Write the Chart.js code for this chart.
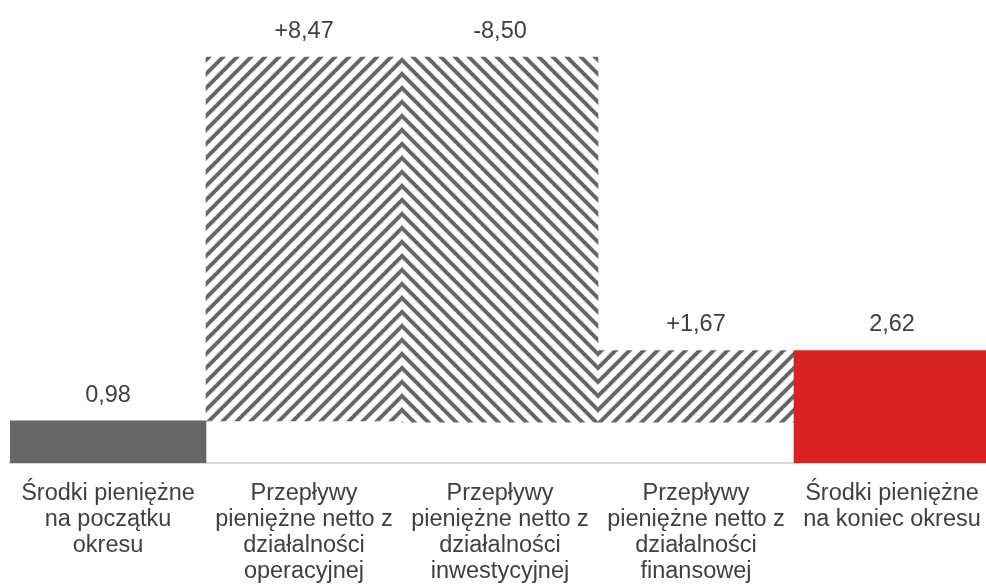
<!DOCTYPE html>
<html>
<head>
<meta charset="utf-8">
<script src="https://cdn.jsdelivr.net/npm/chart.js@4"></script>
<style>
  html, body { margin: 0; padding: 0; background: #fff; overflow: hidden; }
  #cashChart { display: block; }
</style>
</head>
<body>
<canvas id="cashChart" width="990" height="585"></canvas>
<script>
// data (mln)
const categories = [
    ['Środki pieniężne', 'na początku', 'okresu'],
    ['Przepływy', 'pieniężne netto z', 'działalności', 'operacyjnej'],
    ['Przepływy', 'pieniężne netto z', 'działalności', 'inwestycyjnej'],
    ['Przepływy', 'pieniężne netto z', 'działalności', 'finansowej'],
    ['Środki pieniężne', 'na koniec okresu']
];
const changes = [0.98, 8.47, -8.50, 1.67, 2.62];
const barKinds = ['total', 'delta', 'delta', 'delta', 'total'];

const textColor = '#404040';
const greyColor = '#666666';
const redColor = '#da2320';
const fontFamily = '"Liberation Sans", Arial, sans-serif';
const HATCH = 14;

// floating ranges for the waterfall
const ranges = [];
let running = 0;
changes.forEach((v, i) => {
    if (barKinds[i] === 'total') {
        ranges.push([0, v]);
        running = v;
    } else {
        ranges.push([running, running + v]);
        running += v;
    }
});

const valueLabels = changes.map((v, i) => {
    const txt = Math.abs(v).toFixed(2).replace('.', ',');
    if (barKinds[i] === 'total') return txt;
    return (v >= 0 ? '+' : '-') + txt;
});

function makeHatch(up) {
    const s = HATCH;
    const c = document.createElement('canvas');
    c.width = s;
    c.height = s;
    const g = c.getContext('2d');
    g.fillStyle = '#fff';
    g.fillRect(0, 0, s, s);
    g.strokeStyle = greyColor;
    g.lineWidth = 4;
    g.beginPath();
    if (up) {
        g.moveTo(0, s); g.lineTo(s, 0);
        g.moveTo(-3, 3); g.lineTo(3, -3);
        g.moveTo(s - 3, s + 3); g.lineTo(s + 3, s - 3);
    } else {
        g.moveTo(0, 0); g.lineTo(s, s);
        g.moveTo(-3, s - 3); g.lineTo(3, s + 3);
        g.moveTo(s - 3, -3); g.lineTo(s + 3, 3);
    }
    g.stroke();
    return g.createPattern(c, 'repeat');
}

const hatchUp = makeHatch(true);
const hatchDown = makeHatch(false);

const fills = changes.map((v, i) => {
    if (barKinds[i] === 'total') return i === 0 ? greyColor : redColor;
    return v >= 0 ? hatchUp : hatchDown;
});

// shift the "\" hatch so the stripes meet in a chevron at the bar edges
const hatchAlignPlugin = {
    id: 'hatchAlign',
    beforeDatasetsDraw(chart) {
        const bar = chart.getDatasetMeta(0).data[1];
        if (!bar || !hatchDown.setTransform) return;
        const edge = bar.x + bar.width / 2;
        const tx = (2 * edge) % HATCH;
        hatchDown.setTransform(new DOMMatrix().translate(tx, 0));
    }
};

const valueLabelPlugin = {
    id: 'valueLabels',
    afterDatasetsDraw(chart) {
        const ctx = chart.ctx;
        const meta = chart.getDatasetMeta(0);
        ctx.save();
        ctx.font = '23.5px ' + fontFamily;
        ctx.fillStyle = textColor;
        ctx.textAlign = 'center';
        ctx.textBaseline = 'alphabetic';
        meta.data.forEach((bar, i) => {
            const top = Math.min(bar.y, bar.base);
            ctx.fillText(valueLabels[i], bar.x, top - 19);
        });
        ctx.restore();
    }
};

new Chart(document.getElementById('cashChart').getContext('2d'), {
    type: 'bar',
    data: {
        labels: categories,
        datasets: [{
            data: ranges,
            backgroundColor: fills,
            borderWidth: 0,
            borderSkipped: false,
            barPercentage: 1,
            categoryPercentage: 1
        }]
    },
    options: {
        responsive: false,
        animation: false,
        layout: { padding: { left: 10, right: 0, top: 0, bottom: 0 } },
        plugins: {
            legend: { display: false },
            tooltip: { enabled: false }
        },
        scales: {
            x: {
                grid: { display: false, drawTicks: false },
                border: { display: true, color: '#d9d9d9', width: 2 },
                ticks: {
                    color: textColor,
                    padding: 18,
                    maxRotation: 0,
                    autoSkip: false,
                    font: { family: fontFamily, size: 23.5, lineHeight: 1.106 }
                },
                afterFit(scale) {
                    scale.height = 122;
                    scale.paddingLeft = 0;
                    scale.paddingRight = 0;
                }
            },
            y: {
                display: false,
                min: 0,
                max: 10.78
            }
        }
    },
    plugins: [hatchAlignPlugin, valueLabelPlugin]
});
</script>
</body>
</html>
